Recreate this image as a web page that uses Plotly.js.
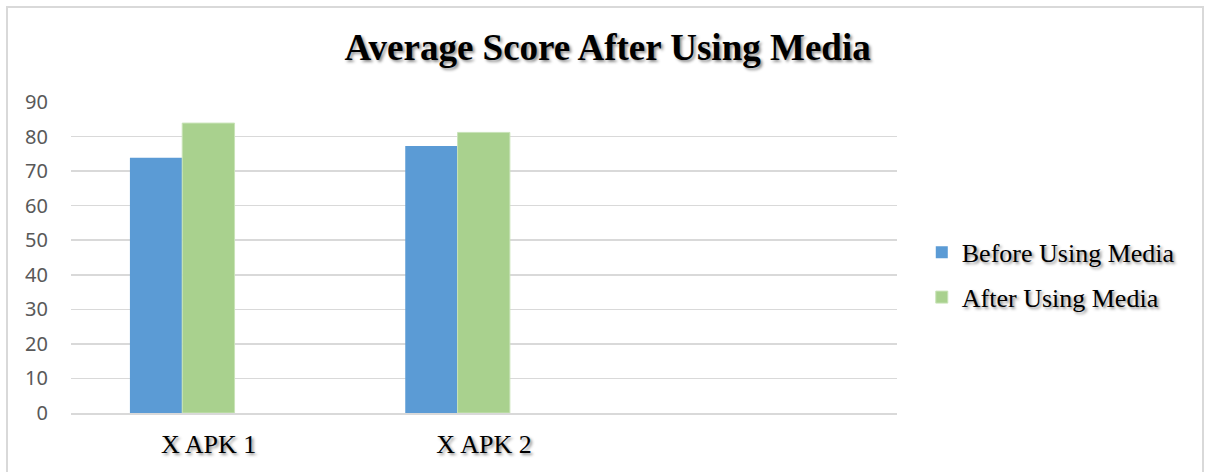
<!DOCTYPE html>
<html>
<head>
<meta charset="utf-8">
<script src="https://cdn.plot.ly/plotly-3.0.1.min.js"></script>
<style>
  html, body { margin: 0; padding: 0; background: #ffffff; }
  #chart { width: 1208px; height: 472px; }
  #frame { position: absolute; left: 6px; top: 6px; width: 1198px; height: 480px;
           box-sizing: border-box; border: 2px solid #d9d9d9; pointer-events: none; }
</style>
</head>
<body>
<div id="chart"></div>
<div id="frame"></div>
<script>
// ---- data ----
const categories = ["X APK 1", "X APK 2"];
const seriesNames = ["Before Using Media", "After Using Media"];
const beforeValues = [73.9, 77.3];
const afterValues = [83.9, 81.2];
const yTickValues = [0, 10, 20, 30, 40, 50, 60, 70, 80, 90];

const titleText = "Average Score After Using Media";
const serif = "Liberation Serif, Times New Roman, serif";
const shadow = "2px 2px 3px rgba(0,0,0,0.45)";

const barWidth = 0.19;
const traces = [
  {
    type: "bar", name: seriesNames[0], x: categories, y: beforeValues,
    marker: { color: "#5b9bd5" }, width: barWidth, offset: -0.286,
    legendgroup: "a", hoverinfo: "y"
  },
  {
    type: "bar", name: seriesNames[1], x: categories, y: afterValues,
    marker: { color: "#a9d18e", line: { color: "#c9e3b8", width: 1 } },
    width: barWidth, offset: -0.096,
    legendgroup: "b", hoverinfo: "y"
  }
];

const layout = {
  width: 1208, height: 472,
  margin: { l: 71, r: 311, t: 102, b: 59 },
  paper_bgcolor: "#ffffff", plot_bgcolor: "#ffffff",
  title: {
    text: "<b>" + titleText + "</b>",
    font: { family: serif, size: 37, color: "#000000", shadow: shadow },
    x: 0.503, xref: "container", xanchor: "center",
    y: 1 - 47 / 472, yref: "container", yanchor: "middle"
  },
  barmode: "group",
  xaxis: {
    type: "category",
    range: [-0.5, 2.5],
    showgrid: false, zeroline: false,
    showline: true, linecolor: "#d9d9d9", linewidth: 1.5,
    ticks: "", ticklabelstandoff: 7,
    tickfont: { family: serif, size: 26, color: "#000000", shadow: shadow },
    fixedrange: true
  },
  yaxis: {
    range: [0, 90],
    tickvals: yTickValues,
    showgrid: true, gridcolor: "#d9d9d9", gridwidth: 1.5,
    zeroline: false, showline: false,
    ticks: "", ticklabelstandoff: 22,
    tickfont: { family: "Noto Sans, Open Sans, sans-serif", size: 20, color: "#595959" },
    fixedrange: true
  },
  legend: {
    x: 1.03, xanchor: "left", y: 0.444, yanchor: "middle",
    font: { family: serif, size: 26, color: "#000000", shadow: shadow },
    bgcolor: "rgba(0,0,0,0)", tracegroupgap: 8,
    traceorder: "grouped"
  },
  showlegend: true
};

Plotly.newPlot("chart", traces, layout, { displayModeBar: false, staticPlot: true });
</script>
</body>
</html>
